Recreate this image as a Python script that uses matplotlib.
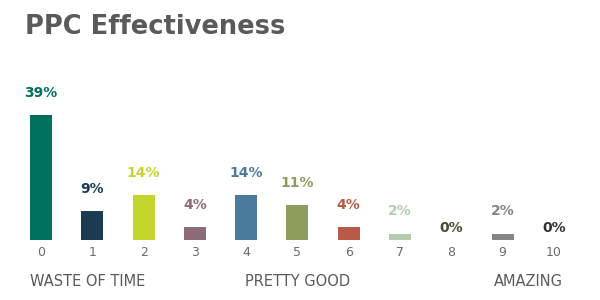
import matplotlib.pyplot as plt

scores = [0, 1, 2, 3, 4, 5, 6, 7, 8, 9, 10]
share = [39, 9, 14, 4, 14, 11, 4, 2, 0, 2, 0]
colors = ['#00705f', '#1b3b53', '#c4d52e', '#8d6b7b', '#4a7b9d', '#8d9d5b',
          '#b85a48', '#b6ccaf', '#4b4636', '#858585', '#333333']
groups = ['WASTE OF TIME', 'PRETTY GOOD', 'AMAZING']
group_pos = [0.9, 5.0, 9.5]

fig = plt.figure(figsize=(6, 3), dpi=100)
fig.patch.set_facecolor('white')
ax = fig.add_axes([0.0, 0.2, 1.0, 0.5])

ax.bar(scores, share, width=0.43, color=colors)
for x, v, c in zip(scores, share, colors):
    off = 16 if v > 0 else 9
    ax.annotate(f'{v}%', (x, v), xytext=(0, off), textcoords='offset points',
                ha='center', va='center', fontsize=10, fontweight='bold', color=c)

ax.set_xlim(-0.8, 10.9)
ax.set_ylim(0, 46.8)
ax.set_xticks(scores)
ax.set_xticklabels([str(s) for s in scores], fontsize=9, color='#6a6a6a')
ax.tick_params(axis='x', length=0, pad=4)
ax.set_yticks([])
for s in ax.spines.values():
    s.set_visible(False)

for g, p in zip(groups, group_pos):
    ax.annotate(g, (p, 0), xytext=(0, -30), textcoords='offset points',
                ha='center', va='center', fontsize=10.5, color='#5a5a5a')

fig.text(0.042, 0.91, 'PPC Effectiveness', fontsize=18.5, fontweight='bold',
         color='#5a5a5a', va='center', ha='left')

fig.savefig('out.png', dpi=100, facecolor='white')
